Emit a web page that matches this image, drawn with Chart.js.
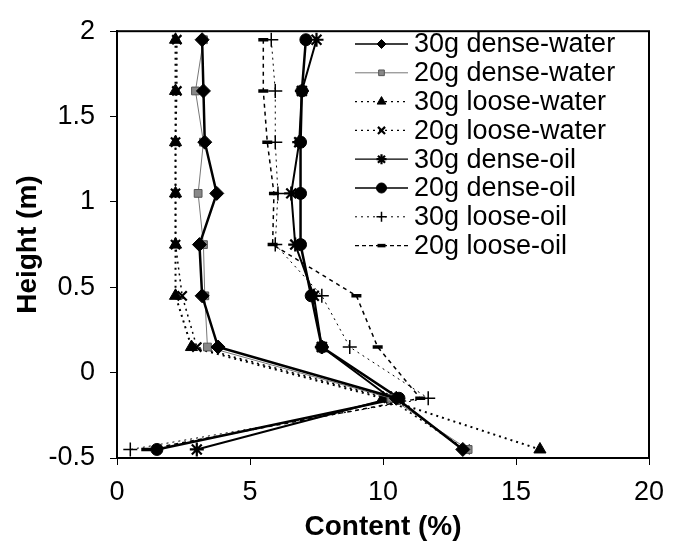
<!DOCTYPE html>
<html>
<head>
<meta charset="utf-8">
<script src="https://cdn.jsdelivr.net/npm/chart.js@4.4.1/dist/chart.umd.min.js"></script>
<style>
  html, body { margin: 0; padding: 0; background: #fff; }
  #wrap { width: 681px; height: 548px; }
</style>
</head>
<body>
<div id="wrap"><canvas id="c" width="681" height="548"></canvas></div>
<script>
// ---- data ----
const heights      = [1.95, 1.65, 1.35, 1.05, 0.75, 0.45, 0.15, -0.15, -0.45];
const dense30Water = [3.2, 3.25, 3.3, 3.75, 3.1, 3.2, 3.8, 10.5, 13.0];
const dense20Water = [3.25, 2.95, 3.25, 3.05, 3.25, 3.3, 3.4, 10.3, 13.2];
const loose30Water = [2.2, 2.2, 2.2, 2.2, 2.2, 2.2, 2.8, 10.0, 15.9];
const loose20Water = [2.25, 2.25, 2.2, 2.2, 2.2, 2.45, 3.0, 10.2, 13.1];
const dense30Oil   = [7.5, 6.95, 6.85, 6.55, 6.7, 7.4, 7.7, 10.3, 3.0];
const dense20Oil   = [7.1, 6.95, 6.9, 6.9, 6.9, 7.3, 7.7, 10.6, 1.5];
const loose30Oil   = [5.8, 5.95, 5.95, 6.05, 5.95, 7.7, 8.75, 11.7, 0.5];
const loose20Oil   = [5.5, 5.5, 5.65, 5.9, 5.85, 9.0, 9.8, 11.4, 1.1];
const seriesNames  = ['30g dense-water', '20g dense-water', '30g loose-water', '20g loose-water',
                      '30g dense-oil', '20g dense-oil', '30g loose-oil', '20g loose-oil'];
const seriesValues = [dense30Water, dense20Water, loose30Water, loose20Water,
                      dense30Oil, dense20Oil, loose30Oil, loose20Oil];
const yTickLabels  = ['-0.5', '0', '0.5', '1', '1.5', '2'];
const xTickLabels  = ['0', '5', '10', '15', '20'];

// ---- styles ----
const styles = [
  { color: '#000', width: 2.5, dash: [],     point: 'rectRot',  radius: 7,   pw: 1,   fill: '#000', lr: 4.5, lw: 1.5 },
  { color: '#777', width: 1,   dash: [],     point: 'rect',     radius: 5.5, pw: 1,   fill: '#888', lr: 4,   lw: 1 },
  { color: '#000', width: 2,   dash: [2, 4], point: 'triangle', radius: 7,   pw: 1,   fill: '#000', lr: 5,   lw: 1.2 },
  { color: '#000', width: 1.5, dash: [2, 4], point: 'crossRot', radius: 6.5, pw: 2.2, fill: '#000', lr: 5,   lw: 1.2 },
  { color: '#000', width: 2,   dash: [],     point: 'star',     radius: 7,   pw: 2.2, fill: '#000', lr: 5,   lw: 1.3 },
  { color: '#000', width: 2.5, dash: [],     point: 'circle',   radius: 6,   pw: 1,   fill: '#000', lr: 5,   lw: 1.5 },
  { color: '#000', width: 1,   dash: [2, 4], point: 'cross',    radius: 7,   pw: 1.5, fill: '#000', lr: 5,   lw: 1 },
  { color: '#000', width: 1.5, dash: [4, 4], point: 'line',     radius: 5,   pw: 3.5, fill: '#000', lr: 4,   lw: 1.2 }
];

const FONT = '"Liberation Sans", Arial, sans-serif';

const datasets = seriesNames.map((name, i) => ({
  label: name,
  data: heights.map((h, k) => ({ x: seriesValues[i][k], y: h })),
  showLine: true,
  borderColor: styles[i].color,
  borderWidth: styles[i].width,
  borderDash: styles[i].dash,
  pointStyle: styles[i].point,
  pointRadius: styles[i].radius,
  pointBorderWidth: styles[i].pw,
  pointBackgroundColor: styles[i].fill,
  pointBorderColor: styles[i].color === '#777' ? '#555' : '#000',
  tension: 0,
  fill: false
}));

const boxPlugin = {
  id: 'box',
  afterDraw(chart) {
    const { ctx, chartArea: a } = chart;
    ctx.save();
    ctx.strokeStyle = '#000';
    ctx.lineWidth = 2;
    ctx.strokeRect(a.left, a.top, a.right - a.left, a.bottom - a.top);
    ctx.restore();
  }
};

const legendPlugin = {
  id: 'insideLegend',
  afterDraw(chart) {
    const { ctx } = chart;
    const x0 = 355, x1 = 408, tx = 414, y0 = 44, dy = 28.8;
    ctx.save();
    chart.data.datasets.forEach((ds, i) => {
      const s = styles[i];
      const y = y0 + i * dy;
      ctx.beginPath();
      ctx.setLineDash(s.dash.length ? (s.dash[0] === 4 ? [4, 3] : [2, 4]) : []);
      ctx.strokeStyle = s.color;
      ctx.lineWidth = s.lw;
      ctx.moveTo(x0, y);
      ctx.lineTo(x1, y);
      ctx.stroke();
      ctx.setLineDash([]);
      ctx.fillStyle = s.fill;
      ctx.strokeStyle = s.color === '#777' ? '#555' : '#000';
      ctx.lineWidth = s.pw;
      Chart.helpers.drawPoint(ctx, { pointStyle: s.point, radius: s.lr, rotation: 0, borderWidth: s.pw }, (x0 + x1) / 2, y);
      ctx.fillStyle = '#000';
      ctx.font = '27px ' + FONT;
      ctx.textAlign = 'left';
      ctx.textBaseline = 'middle';
      ctx.fillText(ds.label, tx, y + 1);
    });
    ctx.restore();
  }
};

new Chart(document.getElementById('c'), {
  type: 'scatter',
  data: { datasets },
  plugins: [boxPlugin, legendPlugin],
  options: {
    responsive: false,
    animation: false,
    devicePixelRatio: 1,
    layout: { padding: { top: 18, right: 32, left: 0, bottom: 0 } },
    plugins: { legend: { display: false }, tooltip: { enabled: false } },
    scales: {
      x: {
        type: 'linear', min: 0, max: 20,
        afterFit(s) { s.height = 90; },
        ticks: { stepSize: 5, color: '#000', font: { family: FONT, size: 27 }, padding: 11,
                 callback: (v) => xTickLabels[Math.round(v / 5)] },
        grid: { drawOnChartArea: false, drawTicks: true, tickLength: 7, color: '#000', lineWidth: 1 },
        border: { color: '#000', width: 2 },
        title: { display: true, text: 'Content (%)', color: '#000',
                 font: { family: FONT, size: 28, weight: 'bold' }, padding: { top: 0, bottom: 4 } }
      },
      y: {
        type: 'linear', min: -0.5, max: 2,
        afterFit(s) { s.width = 117; },
        ticks: { stepSize: 0.5, color: '#000', font: { family: FONT, size: 27 }, padding: 15,
                 callback: (v) => yTickLabels[Math.round((v + 0.5) / 0.5)] },
        grid: { drawOnChartArea: false, drawTicks: true, tickLength: 7, color: '#000', lineWidth: 1 },
        border: { color: '#000', width: 2 },
        title: { display: true, text: 'Height (m)', color: '#000',
                 font: { family: FONT, size: 28, weight: 'bold' }, padding: { top: 11, bottom: 0 } }
      }
    }
  }
});
</script>
</body>
</html>
